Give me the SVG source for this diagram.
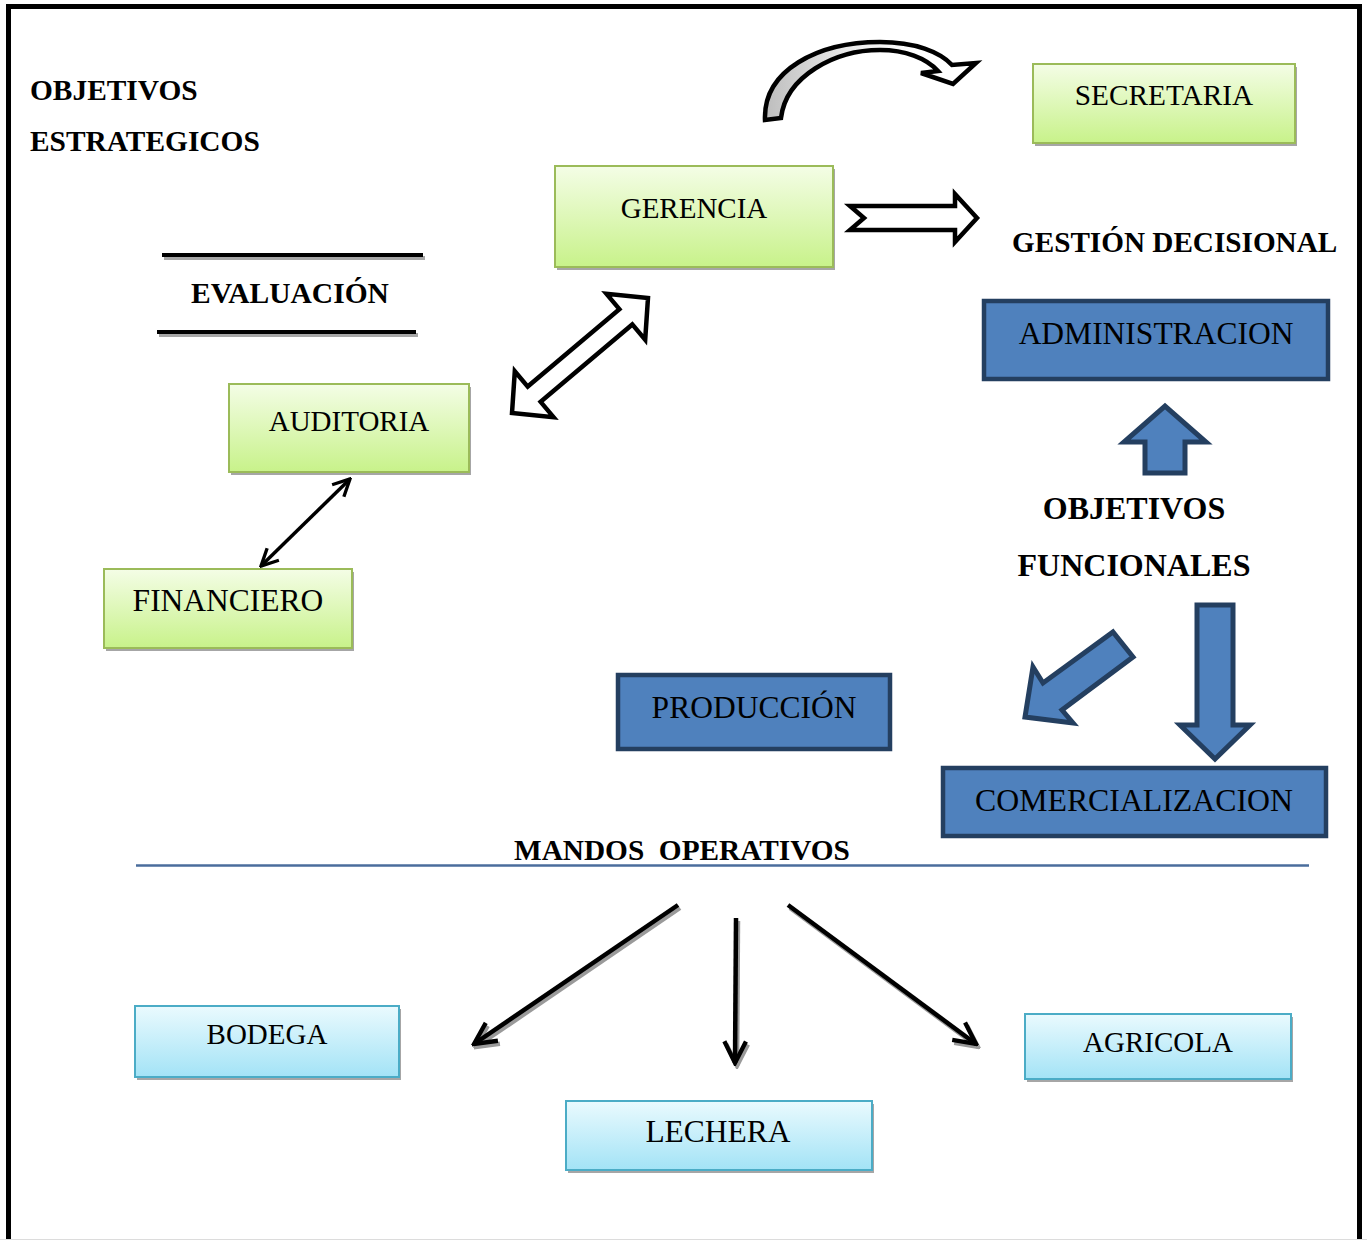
<svg xmlns="http://www.w3.org/2000/svg" width="1367" height="1240" viewBox="0 0 1367 1240">
  <defs>
    <linearGradient id="gGreen" x1="0" y1="0" x2="0" y2="1">
      <stop offset="0" stop-color="#f4fde6"/>
      <stop offset="1" stop-color="#c8f28a"/>
    </linearGradient>
    <linearGradient id="gCyan" x1="0" y1="0" x2="0" y2="1">
      <stop offset="0" stop-color="#eafafe"/>
      <stop offset="1" stop-color="#a3e3f6"/>
    </linearGradient>
    <linearGradient id="gCurve" x1="765" y1="0" x2="975" y2="0" gradientUnits="userSpaceOnUse">
      <stop offset="0" stop-color="#bdbdbd"/>
      <stop offset="0.35" stop-color="#e6e6e6"/>
      <stop offset="0.7" stop-color="#ffffff"/>
    </linearGradient>
    <marker id="vHead" viewBox="0 0 10 10" refX="9" refY="5" markerWidth="6" markerHeight="6" orient="auto-start-reverse" markerUnits="strokeWidth">
      <path d="M1,1 L9,5 L1,9" fill="none" stroke="#000" stroke-width="1.6" stroke-linejoin="miter"/>
    </marker>
    <marker id="vHeadShadow" viewBox="0 0 10 10" refX="9" refY="5" markerWidth="6" markerHeight="6" orient="auto-start-reverse" markerUnits="strokeWidth">
      <path d="M1,1 L9,5 L1,9" fill="none" stroke="#9a9a9a" stroke-width="1.6"/>
    </marker>
  </defs>
  <style>
    .txt { font-family: "Liberation Serif", "Times New Roman", serif; fill: #000; }
    .bold { font-weight: bold; }
    .green { fill: url(#gGreen); stroke: #9bbb59; stroke-width: 2; }
    .cyan { fill: url(#gCyan); stroke: #4bacc6; stroke-width: 2; }
    .blue { fill: #4f81bd; stroke: #243f60; stroke-width: 4.5; }
    .shadow { fill: #a6a6a6; }
    .block { fill: #fff; stroke: #000; stroke-width: 4.5; stroke-linejoin: miter; }
    .blueArrow { fill: #4f81bd; stroke: #243f60; stroke-width: 5; stroke-linejoin: miter; }
    .line { fill: none; stroke: #000; stroke-width: 4.5; }
    .lineShadow { fill: none; stroke: #9a9a9a; stroke-width: 4.5; }
  </style>

  <rect width="1367" height="1240" fill="#fff"/>

  <!-- page frame -->
  <path d="M8.5,1240 L8.5,6.5 L1359.5,6.5 L1359.5,1240" fill="none" stroke="#000" stroke-width="5"/>
  <line x1="0" y1="1239.5" x2="1367" y2="1239.5" stroke="#dcdcdc" stroke-width="1"/>

  <!-- free labels -->
  <g id="label-objetivos-estrategicos">
    <text class="txt bold" x="30" y="100" font-size="29.4">OBJETIVOS</text>
    <text class="txt bold" x="30" y="151" font-size="29.4">ESTRATEGICOS</text>
  </g>
  <g id="label-evaluacion">
    <rect x="164" y="256" width="261" height="4" class="shadow"/>
    <rect x="162" y="253" width="261" height="4" fill="#000"/>
    <text class="txt bold" x="290" y="303" font-size="29.5" text-anchor="middle">EVALUACIÓN</text>
    <rect x="159" y="333" width="259" height="4" class="shadow"/>
    <rect x="157" y="330" width="259" height="4" fill="#000"/>
  </g>
  <g id="label-gestion">
    <text class="txt bold" x="1012" y="252" font-size="29.2">GESTIÓN DECISIONAL</text>
  </g>
  <g id="label-objetivos-funcionales">
    <text class="txt bold" x="1134" y="519" font-size="32" text-anchor="middle">OBJETIVOS</text>
    <text class="txt bold" x="1134" y="576" font-size="32" text-anchor="middle">FUNCIONALES</text>
  </g>
  <g id="label-mandos">
    <text class="txt bold" x="514" y="860" font-size="29.3" xml:space="preserve" style="white-space: pre">MANDOS  OPERATIVOS</text>
    <line x1="136" y1="865.5" x2="1309" y2="865.5" stroke="#4a6d9c" stroke-width="2.5"/>
  </g>

  <!-- green nodes -->
  <g id="node-secretaria">
    <rect x="1035" y="67" width="262" height="79" class="shadow"/>
    <rect x="1033" y="64" width="262" height="79" class="green"/>
    <text class="txt" x="1164" y="105" font-size="29.3" text-anchor="middle">SECRETARIA</text>
  </g>
  <g id="node-gerencia">
    <rect x="557" y="169" width="278" height="101" class="shadow"/>
    <rect x="555" y="166" width="278" height="101" class="green"/>
    <text class="txt" x="694" y="218" font-size="29" text-anchor="middle">GERENCIA</text>
  </g>
  <g id="node-auditoria">
    <rect x="231" y="387" width="240" height="88" class="shadow"/>
    <rect x="229" y="384" width="240" height="88" class="green"/>
    <text class="txt" x="349" y="431" font-size="29" text-anchor="middle">AUDITORIA</text>
  </g>
  <g id="node-financiero">
    <rect x="106" y="572" width="248" height="79" class="shadow"/>
    <rect x="104" y="569" width="248" height="79" class="green"/>
    <text class="txt" x="228" y="611" font-size="31.5" text-anchor="middle">FINANCIERO</text>
  </g>

  <!-- blue nodes -->
  <g id="node-administracion">
    <rect x="984" y="301" width="344" height="78" class="blue"/>
    <text class="txt" x="1156" y="344" font-size="31.5" text-anchor="middle">ADMINISTRACION</text>
  </g>
  <g id="node-produccion">
    <rect x="618" y="675" width="272" height="74" class="blue"/>
    <text class="txt" x="754" y="718" font-size="31.5" text-anchor="middle">PRODUCCIÓN</text>
  </g>
  <g id="node-comercializacion">
    <rect x="943" y="768" width="383" height="68" class="blue"/>
    <text class="txt" x="1134" y="811" font-size="31.8" text-anchor="middle">COMERCIALIZACION</text>
  </g>

  <!-- light blue nodes -->
  <g id="node-bodega">
    <rect x="137" y="1009" width="264" height="71" class="shadow"/>
    <rect x="135" y="1006" width="264" height="71" class="cyan"/>
    <text class="txt" x="267" y="1044" font-size="29" text-anchor="middle">BODEGA</text>
  </g>
  <g id="node-lechera">
    <rect x="568" y="1104" width="306" height="69" class="shadow"/>
    <rect x="566" y="1101" width="306" height="69" class="cyan"/>
    <text class="txt" x="718" y="1142" font-size="31.5" text-anchor="middle">LECHERA</text>
  </g>
  <g id="node-agricola">
    <rect x="1027" y="1017" width="266" height="65" class="shadow"/>
    <rect x="1025" y="1014" width="266" height="65" class="cyan"/>
    <text class="txt" x="1158" y="1052" font-size="29" text-anchor="middle">AGRICOLA</text>
  </g>

  <!-- connectors -->
  <g id="connectors">
    <!-- curved arrow towards SECRETARIA -->
    <path d="M765,120 C763,70 818,42 880,42 C915,42 940,52 952,65 L976,63 L953,84 L921,73 L938,71 C926,58 905,50 880,50 C835,50 786,76 781,118 Z" fill="url(#gCurve)" stroke="#000" stroke-width="4.5" stroke-linejoin="miter"/>
    <!-- block arrow GERENCIA to GESTIÓN DECISIONAL -->
    <path d="M850,206 L955,206 L955,194 L977,218 L955,242 L955,230 L850,230 L864,218 Z" class="block"/>
    <!-- double block arrow GERENCIA / AUDITORIA -->
    <path d="M-89,0 L-60,-30 L-60,-10 L60,-10 L60,-30 L89,0 L60,30 L60,10 L-60,10 L-60,30 Z" class="block" transform="translate(580,355.5) rotate(-40.2)"/>
    <!-- thin double arrow AUDITORIA / FINANCIERO -->
    <line x1="350" y1="479" x2="261" y2="566" stroke="#000" stroke-width="3.5" marker-start="url(#vHead)" marker-end="url(#vHead)"/>
    <!-- blue arrows -->
    <path d="M1145,473 L1145,442 L1124,442 L1165,406 L1206,442 L1185,442 L1185,473 Z" class="blueArrow"/>
    <path d="M1197,605 L1233,605 L1233,725 L1250,725 L1215,759 L1180,725 L1197,725 Z" class="blueArrow"/>
    <path d="M1113,632 L1133,657 L1062,710 L1073,723 L1025,717 L1033,667 L1043,683 Z" class="blueArrow"/>
    <!-- arrows from MANDOS OPERATIVOS -->
    <g transform="translate(2,3)">
      <line x1="678" y1="905" x2="474" y2="1044" class="lineShadow" marker-end="url(#vHeadShadow)"/>
      <line x1="736" y1="918" x2="735" y2="1063" class="lineShadow" marker-end="url(#vHeadShadow)"/>
      <line x1="788" y1="905" x2="976" y2="1044" class="lineShadow" marker-end="url(#vHeadShadow)"/>
    </g>
    <line x1="678" y1="905" x2="474" y2="1044" class="line" marker-end="url(#vHead)"/>
    <line x1="736" y1="918" x2="735" y2="1063" class="line" marker-end="url(#vHead)"/>
    <line x1="788" y1="905" x2="976" y2="1044" class="line" marker-end="url(#vHead)"/>
  </g>
</svg>
